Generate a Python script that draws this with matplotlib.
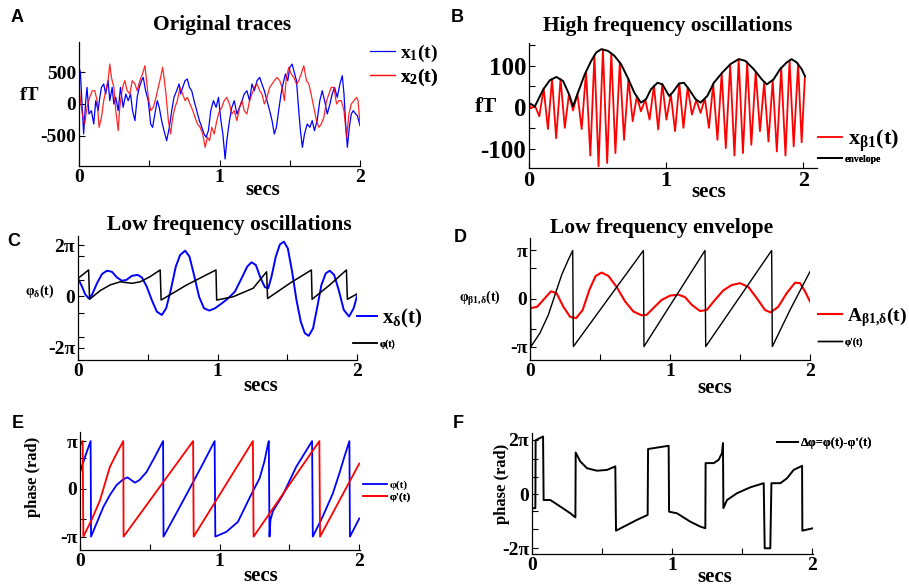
import numpy as np
import matplotlib
matplotlib.use("Agg")
import matplotlib.pyplot as plt

plt.rcParams['font.family'] = ['Liberation Serif', 'DejaVu Serif']
plt.rcParams['font.weight'] = 'bold'
plt.rcParams['mathtext.fontset'] = 'custom'
plt.rcParams['mathtext.rm'] = 'Liberation Serif:bold'
plt.rcParams['mathtext.it'] = 'Liberation Serif:bold'
plt.rcParams['mathtext.bf'] = 'Liberation Serif:bold'
plt.rcParams['axes.unicode_minus'] = False

PI = np.pi

# ---- panel A: original traces (secs, fT)
x1_pts = [(0.000, 573), (0.010, 495), (0.024, -104), (0.033, -469), (0.048, 52), (0.057, 260),
          (0.071, -156), (0.088, -104), (0.105, -313), (0.119, 52), (0.136, -104), (0.148, 104),
          (0.160, 260), (0.176, 313), (0.190, 156), (0.207, 365), (0.219, 52), (0.236, 260),
          (0.248, 0), (0.262, 104), (0.279, -104), (0.295, 260), (0.314, -52), (0.333, 156),
          (0.350, 52), (0.367, 156), (0.381, -104), (0.398, -260), (0.414, 104), (0.429, 260),
          (0.445, 365), (0.457, 417), (0.474, 208), (0.493, 52), (0.510, -313), (0.524, -365),
          (0.540, -156), (0.557, 52), (0.571, -52), (0.588, -260), (0.605, -417), (0.624, -573),
          (0.643, -365), (0.660, -104), (0.676, 104), (0.695, 208), (0.712, 313), (0.724, 156),
          (0.738, 260), (0.755, 365), (0.771, 391), (0.786, 260), (0.802, 208), (0.819, 52),
          (0.838, -104), (0.857, -260), (0.874, -365), (0.890, -469), (0.905, -521), (0.921, -417),
          (0.938, -104), (0.957, 52), (0.976, -52), (0.993, 104), (1.010, -260), (1.024, -469),
          (1.040, -860), (1.052, -573), (1.071, -260), (1.088, -52), (1.105, 52), (1.124, -156),
          (1.143, -52), (1.160, 52), (1.176, 156), (1.195, 208), (1.214, 52), (1.231, 313),
          (1.248, 208), (1.267, 365), (1.286, 417), (1.302, 313), (1.319, 208), (1.338, 52),
          (1.357, -104), (1.374, -260), (1.390, -469), (1.405, -365), (1.421, -104), (1.438, 156),
          (1.452, 313), (1.469, 469), (1.486, 365), (1.500, 573), (1.517, 625), (1.529, 521),
          (1.548, 365), (1.564, -104), (1.576, -417), (1.590, -677), (1.605, -469), (1.624, -313),
          (1.643, -365), (1.660, -260), (1.676, -417), (1.695, -260), (1.714, 52), (1.731, 208),
          (1.748, 52), (1.767, -156), (1.786, 0), (1.802, 156), (1.819, 260), (1.838, 104),
          (1.857, 313), (1.874, 443), (1.886, 156), (1.898, -313), (1.910, -677), (1.924, -365),
          (1.938, -156), (1.952, -104), (1.969, -156), (1.981, -182), (2.000, -339)]

x2_pts = [(0.000, 313), (0.010, 52), (0.024, -156), (0.040, -313), (0.057, -52), (0.076, 104),
          (0.095, 208), (0.112, 208), (0.129, 52), (0.143, -365), (0.160, -208), (0.176, 52),
          (0.190, 208), (0.207, 365), (0.219, 625), (0.231, 417), (0.248, 260), (0.262, -104),
          (0.279, -417), (0.290, -52), (0.310, 260), (0.326, 365), (0.343, 208), (0.362, 156),
          (0.379, 365), (0.398, 313), (0.414, 208), (0.433, 365), (0.452, 469), (0.469, 599),
          (0.481, 365), (0.493, 104), (0.510, -104), (0.529, -52), (0.548, 104), (0.564, 260),
          (0.581, 417), (0.595, 573), (0.605, 417), (0.619, 156), (0.636, -260), (0.652, -469),
          (0.667, -208), (0.683, -52), (0.700, 52), (0.719, 260), (0.738, 156), (0.755, 52),
          (0.771, 104), (0.790, 0), (0.810, -104), (0.826, -208), (0.843, -313), (0.862, -365),
          (0.881, -469), (0.898, -677), (0.914, -521), (0.929, -573), (0.945, -365), (0.962, -469),
          (0.981, -260), (1.000, -104), (1.017, -52), (1.033, 52), (1.052, 104), (1.071, 0),
          (1.088, -156), (1.105, -104), (1.124, -260), (1.143, -52), (1.160, 52), (1.176, -104),
          (1.195, -156), (1.214, 52), (1.231, 156), (1.248, 260), (1.267, 313), (1.286, 208),
          (1.302, 156), (1.319, 0), (1.338, 104), (1.357, 260), (1.374, 313), (1.390, 365),
          (1.410, 417), (1.429, 365), (1.445, 260), (1.462, 52), (1.476, 417), (1.493, 573),
          (1.510, 469), (1.529, 417), (1.548, 313), (1.564, 365), (1.581, 469), (1.600, 599),
          (1.619, 365), (1.636, 313), (1.652, 156), (1.671, -52), (1.690, -260), (1.707, -365),
          (1.724, -313), (1.743, -208), (1.762, 52), (1.779, 156), (1.795, 260), (1.814, 260),
          (1.833, 0), (1.850, 52), (1.867, 52), (1.886, -104), (1.905, -521), (1.921, -156),
          (1.938, 0), (1.957, 52), (1.976, 104), (1.986, 52), (2.000, -313)]

# ---- panel B: beta band signal (extrema) and its envelope (fT)
hf_pts = [(0.000, 8), (0.013, -3), (0.044, 3), (0.075, -22), (0.107, 45), (0.138, -53),
          (0.168, 68), (0.198, -75), (0.230, 68), (0.261, -50), (0.291, 31), (0.321, -8),
          (0.353, 32), (0.384, -53), (0.416, 86), (0.447, -117), (0.477, 125), (0.507, -143),
          (0.539, 140), (0.570, -135), (0.600, 131), (0.630, -111), (0.662, 108), (0.693, -79),
          (0.725, 68), (0.756, -34), (0.786, 26), (0.816, -10), (0.848, 18), (0.879, -30),
          (0.911, 52), (0.942, -54), (0.972, 56), (1.002, -30), (1.034, 31), (1.065, -58),
          (1.096, 57), (1.126, -50), (1.157, 48), (1.188, -18), (1.220, 17), (1.251, -14),
          (1.282, 21), (1.312, -50), (1.343, 56), (1.374, -79), (1.405, 82), (1.435, -99),
          (1.467, 103), (1.498, -117), (1.529, 116), (1.560, -111), (1.591, 109), (1.621, -91),
          (1.653, 86), (1.684, -58), (1.715, 60), (1.746, -83), (1.777, 65), (1.807, -107),
          (1.839, 95), (1.870, -117), (1.900, 113), (1.930, -95), (1.962, 105), (1.988, -85),
          (2.012, 75)]

env_pts = [(0.000, 10), (0.043, 2), (0.104, 43), (0.152, 65), (0.200, 73), (0.249, 63),
           (0.292, 31), (0.321, 2), (0.357, 35), (0.406, 79), (0.454, 112), (0.490, 132),
           (0.527, 140), (0.575, 136), (0.623, 124), (0.671, 104), (0.720, 71), (0.768, 35),
           (0.816, 11), (0.853, 19), (0.889, 43), (0.937, 59), (0.973, 55), (1.022, 27),
           (1.046, 35), (1.094, 57), (1.130, 59), (1.167, 43), (1.215, 19), (1.251, 11),
           (1.300, 27), (1.348, 59), (1.408, 83), (1.469, 104), (1.529, 116), (1.577, 112),
           (1.638, 92), (1.698, 67), (1.734, 55), (1.783, 67), (1.831, 92), (1.879, 108),
           (1.915, 116), (1.952, 108), (1.988, 92), (2.012, 75)]

# ---- panel C: delta band signal and phase (units of pi)
xdelta_pts = [(0.000, 0.70), (0.029, 0.38), (0.052, 0.08), (0.076, -0.07), (0.100, 0.06),
              (0.136, 0.51), (0.172, 0.87), (0.207, 1.00), (0.243, 0.96), (0.279, 0.74),
              (0.315, 0.61), (0.346, 0.64), (0.386, 0.80), (0.427, 0.84), (0.458, 0.74),
              (0.493, 0.38), (0.529, -0.14), (0.565, -0.59), (0.601, -0.72), (0.632, -0.46),
              (0.665, 0.25), (0.701, 1.16), (0.732, 1.61), (0.768, 1.78), (0.799, 1.55),
              (0.832, 0.83), (0.868, -0.01), (0.903, -0.46), (0.942, -0.55), (0.982, -0.46),
              (1.030, -0.27), (1.077, -0.07), (1.125, 0.19), (1.173, 0.71), (1.213, 1.16),
              (1.244, 1.33), (1.275, 1.22), (1.309, 0.71), (1.340, 0.36), (1.364, 0.32),
              (1.387, 0.77), (1.418, 1.55), (1.447, 2.02), (1.476, 2.13), (1.504, 1.87),
              (1.535, 0.96), (1.566, -0.14), (1.597, -0.98), (1.626, -1.43), (1.654, -1.53),
              (1.685, -1.24), (1.716, -0.39), (1.745, 0.45), (1.776, 0.90), (1.805, 1.00),
              (1.836, 0.84), (1.869, 0.25), (1.905, -0.52), (1.943, -0.78), (1.976, -0.46),
              (2.007, 0.15)]

phic_pts = [(0.000, 0.70), (0.076, 1.03), (0.083, -0.11), (0.160, 0.23), (0.231, 0.45),
            (0.303, 0.57), (0.386, 0.51), (0.446, 0.57), (0.517, 0.77), (0.589, 1.03),
            (0.596, -0.14), (0.780, 0.45), (0.989, 1.03), (0.994, -0.14), (1.113, -0.01),
            (1.256, 0.32), (1.352, 0.96), (1.359, -0.08), (1.518, 0.51), (1.673, 1.03),
            (1.678, -0.11), (1.805, 0.45), (1.924, 1.03), (1.931, -0.11), (2.007, 0.12)]

# ---- panel D: envelope amplitude and its phase (units of pi)
amp_pts = [(0.007, -0.20), (0.052, -0.17), (0.107, 0.01), (0.150, 0.15), (0.190, 0.11),
           (0.238, -0.17), (0.286, -0.38), (0.329, -0.41), (0.376, -0.24), (0.424, 0.18),
           (0.469, 0.47), (0.512, 0.54), (0.560, 0.47), (0.619, 0.24), (0.679, -0.06),
           (0.738, -0.27), (0.798, -0.35), (0.833, -0.34), (0.881, -0.20), (0.940, -0.03),
           (1.000, 0.06), (1.060, 0.08), (1.107, 0.03), (1.155, -0.13), (1.214, -0.26),
           (1.262, -0.24), (1.321, -0.03), (1.381, 0.17), (1.440, 0.28), (1.500, 0.32),
           (1.560, 0.24), (1.619, 0.01), (1.679, -0.24), (1.719, -0.29), (1.774, -0.17),
           (1.833, 0.11), (1.893, 0.33), (1.929, 0.32), (1.964, 0.15), (2.000, -0.06)]

phid_pts = [(0.000, 1.0), (0.007, -1.0), (0.071, -0.72), (0.131, -0.34), (0.179, 0.08),
            (0.226, 0.49), (0.274, 0.81), (0.305, 1.0), (0.310, -1.0), (0.810, 1.0),
            (0.814, -1.0), (1.250, 1.0), (1.255, -1.0), (1.726, 1.0), (1.731, -1.0),
            (1.857, -0.24), (2.000, 0.56)]

# ---- panel E: the two phases (units of pi)
phi_pts = [(0.000, 0.35), (0.036, 0.67), (0.076, 1.0), (0.079, -1.0), (0.119, -0.72),
           (0.167, -0.38), (0.214, -0.13), (0.262, 0.08), (0.310, 0.20), (0.340, 0.24),
           (0.369, 0.18), (0.393, 0.13), (0.424, 0.18), (0.476, 0.35), (0.536, 0.67),
           (0.595, 1.0), (0.598, -1.0), (0.690, -0.51), (0.786, 0.01), (0.881, 0.53),
           (0.964, 1.0), (0.969, -1.0), (1.048, -0.90), (1.131, -0.69), (1.214, -0.19),
           (1.286, 0.22), (1.321, 0.58), (1.345, 0.92), (1.352, 1.0), (1.357, -1.0),
           (1.364, -0.65), (1.381, -0.47), (1.452, -0.13), (1.548, 0.46), (1.662, 1.0),
           (1.667, -1.0), (1.738, -0.58), (1.810, -0.10), (1.857, 0.32), (1.893, 0.67),
           (1.929, 1.0), (1.933, -1.0), (2.000, -0.62)]

phi2_pts = [(0.000, 0.91), (0.019, 1.0), (0.024, -1.0), (0.083, -0.65), (0.143, -0.24),
            (0.214, 0.46), (0.262, 0.74), (0.310, 1.0), (0.312, -1.0), (0.810, 1.0),
            (0.814, -1.0), (1.238, 1.0), (1.243, -1.0), (1.714, 1.0), (1.719, -1.0),
            (2.000, 0.53)]

# ---- panel F: phase difference (units of pi)
dphi_pts = [(0.005, -0.52), (0.024, -0.52), (0.026, 1.98), (0.040, 2.02), (0.079, 2.12),
            (0.083, -0.22), (0.131, -0.22), (0.202, -0.46), (0.274, -0.71), (0.310, -0.86),
            (0.312, 1.53), (0.345, 1.20), (0.393, 0.95), (0.464, 0.86), (0.536, 0.89),
            (0.595, 1.02), (0.600, -1.35), (0.679, -1.14), (0.750, -0.95), (0.826, -0.77),
            (0.829, 1.66), (0.976, 1.78), (0.979, -0.65), (1.036, -0.71), (1.131, -1.02),
            (1.202, -1.20), (1.238, -1.26), (1.240, 1.14), (1.298, 1.14), (1.333, 1.26),
            (1.357, 1.51), (1.364, 1.88), (1.367, -0.52), (1.393, -0.22), (1.464, 0.03),
            (1.560, 0.25), (1.655, 0.40), (1.662, -2.0), (1.702, -2.0), (1.710, 0.40),
            (1.774, 0.40), (1.821, 0.58), (1.869, 0.89), (1.929, 1.04), (1.931, -1.35),
            (2.007, -1.26)]

x_ticks = [0, 1, 2]
x_minor = [0.5, 1.5]

W, H = 909, 587
fig = plt.figure(figsize=(W / 100, H / 100), dpi=100)


def unzip(pts, scale=1.0):
    arr = np.array(pts, dtype=float)
    return arr[:, 0], arr[:, 1] * scale


def px_axes(l, t, r, b, minor=True):
    ax = fig.add_axes([l / W, 1 - b / H, (r - l) / W, (b - t) / H])
    ax.spines[['top', 'right']].set_visible(False)
    ax.spines[['left', 'bottom']].set_linewidth(0.9)
    ax.tick_params(direction='in', length=4, width=0.8, labelsize=14, pad=2)
    ax.tick_params(which='minor', direction='in', length=4, width=0.8)
    ax.set_xticks(x_ticks)
    ax.set_xticklabels([str(v) for v in x_ticks])
    if minor:
        ax.set_xticks(x_minor, minor=True)
    return ax


def ftext(x, y, s, size, **kw):
    kw.setdefault('ha', 'center')
    kw.setdefault('va', 'center')
    fig.text(x / W, 1 - y / H, s, fontsize=size, **kw)


def legend_row(ax, handle, label, x0, x1, y, size):
    leg = ax.legend([handle], [label], loc='center left',
                    bbox_to_anchor=(x0 / W, 1 - y / H), bbox_transform=fig.transFigure,
                    frameon=False, borderpad=0, borderaxespad=0,
                    handlelength=(x1 - x0) * 0.72 / size, handletextpad=0.25,
                    prop={'size': size, 'weight': 'bold'})
    ax.add_artist(leg)


def letter(x, y, s):
    ftext(x, y, s, 13, family=['Liberation Sans', 'DejaVu Sans'], weight='bold')


# A
ax = px_axes(79, 42, 360, 166)
t, v = unzip(x1_pts)
l1, = ax.plot(t, v, color='#0000ff', lw=0.9)
t, v = unzip(x2_pts)
l2, = ax.plot(t, v, color='#ff0000', lw=0.9, alpha=0.85)
ax.set_xlim(0, 2)
ax.set_ylim(-970, 970)
ax.set_yticks([-500, 0, 500])
ax.set_yticklabels(['-500', '0', '500'], fontsize=14)
legend_row(ax, l1, '$x_1(t)$', 370, 395, 53, 14)
legend_row(ax, l2, '$x_2(t)$', 370, 395, 77, 14)
ftext(222, 25, 'Original traces', 15.5)
ftext(30, 95, 'fT', 14)
ftext(263, 190, 'secs', 15)
letter(17, 18, 'A')

# B
ax = px_axes(529, 43, 817, 168, minor=False)
t, v = unzip(hf_pts)
l1, = ax.plot(t, v, color='#ff0000', lw=1.3)
t, v = unzip(env_pts)
l2, = ax.plot(t, v, color='black', lw=1.4)
ax.set_xlim(0, 2.1)
ax.set_ylim(-147, 155)
ax.set_yticks([-100, 0, 100])
ax.set_yticklabels(['-100', '0', '100'], fontsize=18)
ax.set_yticks([-50, 50, 150], minor=True)
ax.tick_params(axis='x', labelsize=16)
legend_row(ax, l1, r'$x_{\beta 1}(t)$', 818, 842, 141, 16)
legend_row(ax, l2, 'envelope', 818, 842, 159, 7)
ftext(668, 26, 'High frequency oscillations', 15.5)
ftext(486, 107, 'fT', 16)
ftext(709, 192, 'secs', 15)
letter(457, 18, 'B')

# C
ax = px_axes(78, 236, 357, 360)
t, v = unzip(xdelta_pts, PI)
l1, = ax.plot(t, v, color='#0000ff', lw=1.4)
t, v = unzip(phic_pts, PI)
l2, = ax.plot(t, v, color='black', lw=1.1)
ax.set_xlim(0, 2.0)
ax.set_ylim(-2.47 * PI, 2.35 * PI)
ax.set_yticks([-2 * PI, 0, 2 * PI])
ax.set_yticklabels(['-2π', '0', '2π'], fontsize=14)
ax.set_yticks([-5, -2, 2, 5], minor=True)
legend_row(ax, l1, r'$x_{\delta}(t)$', 357, 377, 318, 15)
legend_row(ax, l2, 'φ(t)', 353, 377, 344, 7)
ftext(229, 225, 'Low frequency oscillations', 15.5)
ftext(40, 291, r'$φ_{\delta}(t)$', 10)
ftext(261, 386, 'secs', 15)
letter(14, 242, 'C')

# D
ax = px_axes(530, 238, 810, 360)
t, v = unzip(amp_pts, PI)
l1, = ax.plot(t, v, color='#ff0000', lw=1.5)
t, v = unzip(phid_pts, PI)
l2, = ax.plot(t, v, color='black', lw=1.0)
ax.set_xlim(0, 2.0)
ax.set_ylim(-1.28 * PI, 1.26 * PI)
ax.set_yticks([-PI, 0, PI])
ax.set_yticklabels(['-π', '0', 'π'], fontsize=14)
ax.set_yticks([-2, 2], minor=True)
legend_row(ax, l1, r'$A_{\beta 1{,}\delta}(t)$', 818, 842, 317, 14)
legend_row(ax, l2, "φ'(t)", 818, 842, 342, 7)
ftext(662, 228, 'Low frequency envelope', 15.5)
ftext(480, 299, r'$φ_{\beta 1{,}\delta}(t)$', 10)
ftext(715, 388, 'secs', 15)
letter(460, 237, 'D')

# E
ax = px_axes(80, 432, 360, 550)
t, v = unzip(phi_pts, PI)
l1, = ax.plot(t, v, color='#0000ff', lw=1.3)
t, v = unzip(phi2_pts, PI)
l2, = ax.plot(t, v, color='#ff0000', lw=1.3)
ax.set_xlim(0, 2.005)
ax.set_ylim(-1.28 * PI, 1.19 * PI)
ax.set_yticks([-PI, 0, PI])
ax.set_yticklabels(['-π', '0', 'π'], fontsize=14)
ax.set_yticks([-2, 2], minor=True)
legend_row(ax, l1, 'φ(t)', 363, 387, 485, 8)
legend_row(ax, l2, "φ'(t)", 363, 387, 497, 8)
ftext(33, 477, 'phase (rad)', 12, rotation=90)
ftext(261, 576, 'secs', 15)
letter(18, 423, 'E')

# F
ax = px_axes(532, 433, 813, 554)
t, v = unzip(dphi_pts, PI)
l1, = ax.plot(t, v, color='black', lw=1.4)
ax.set_xlim(0, 2.007)
ax.set_ylim(-2.21 * PI, 2.25 * PI)
ax.set_yticks([-2 * PI, 0, 2 * PI])
ax.set_yticklabels(['-2π', '0', '2π'], fontsize=14)
ax.set_yticks([-4, -2, 2, 4], minor=True)
legend_row(ax, l1, "Δφ=φ(t)-φ'(t)", 777, 798, 443, 9)
ftext(502, 484, 'phase (rad)', 12, rotation=90)
ftext(715, 577, 'secs', 15)
letter(458, 423, 'F')

fig.savefig('out.png', dpi=100)
